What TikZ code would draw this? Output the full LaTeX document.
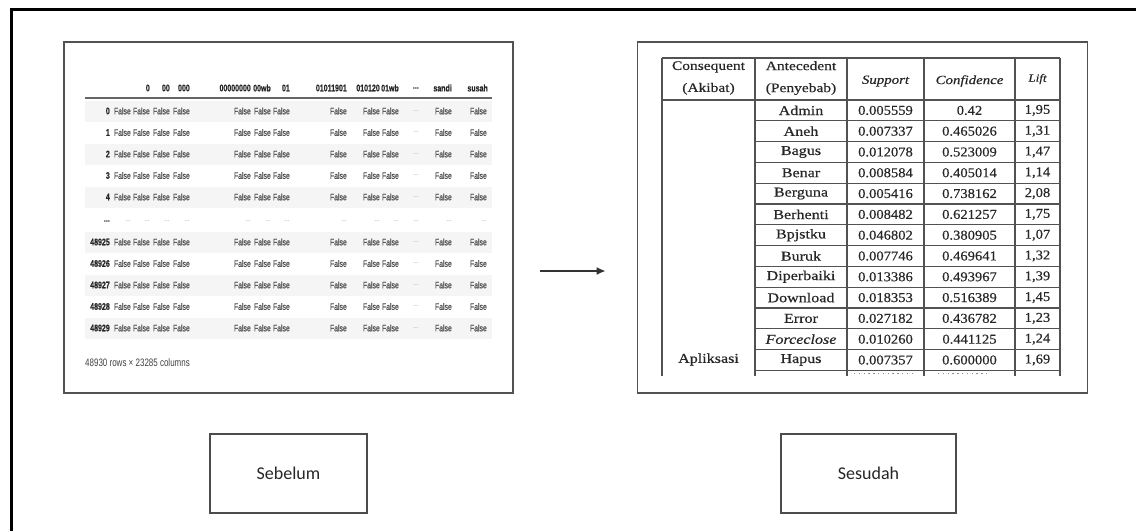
\documentclass[tikz,border=0pt]{standalone}
\usepackage{fontspec}
\setmainfont{Liberation Serif}
\newfontfamily\frameFont[FakeStretch=0.74]{Liberation Sans}
\newfontfamily\frameBold[FakeStretch=0.74,FakeBold=0.6]{Liberation Sans}
\newfontfamily\ruleFont[FakeStretch=1.19,FakeBold=0.5]{Liberation Serif}
\newfontfamily\ruleNum[FakeStretch=1.08,FakeBold=0.4]{Liberation Serif}
\newfontfamily\tagFont{Carlito}
\usetikzlibrary{arrows.meta}
\newcommand\elided{...}

\begin{document}
\begin{tikzpicture}[x=1pt,y=-1pt,
  panel/.style={draw=black!68, line width=1.8pt, inner sep=0},
  dfhead/.style={anchor=east, inner sep=0, font=\frameBold\bfseries\fontsize{9.5}{11}\selectfont, text=black!85},
  dfcell/.style={anchor=east, inner sep=0, font=\frameBold\fontsize{9.3}{11}\selectfont, text=black!70},
  dfskip/.style={anchor=east, inner sep=0, font=\frameFont\fontsize{9}{11}\selectfont, text=black!30},
  dfnote/.style={anchor=west, inner sep=0, font=\frameFont\fontsize{10.8}{12}\selectfont, text=black!75},
  rulehead/.style={inner sep=0, align=center, font=\ruleFont\fontsize{13}{22}\selectfont, text=black!85},
  ruleital/.style={inner sep=0, font=\ruleFont\itshape\fontsize{12.5}{14}\selectfont, text=black!85},
  ruleword/.style={inner sep=0, font=\ruleFont\fontsize{13.5}{15}\selectfont, text=black!85},
  rulecell/.style={inner sep=0, font=\ruleNum\fontsize{13.5}{15}\selectfont, text=black!85},
  grid/.style={draw=black!68, line width=1.3pt},
  tagbox/.style={draw=black!70, line width=1.4pt, minimum height=79pt, inner sep=0,
    font=\tagFont\fontsize{18}{21}\selectfont, text=black!85},
  link/.style={draw=black!80, line width=1.5pt, -{Latex[length=9pt,width=8pt]}}
]
\useasboundingbox (0,0) rectangle (1136,531);

% outer frame (open to the right and bottom)
\draw[line width=3pt] (11,531) -- (11,9) -- (1136,9);

% ---------- left panel: boolean data frame ----------
\node[panel, minimum width=449pt, minimum height=351pt] (before) at (288.5,217.5) {};

% column headers
\foreach \lab/\xx [count=\c] in {0/150, 00/170, 000/190, 00000000/251, 00wb/271, 01/290,
    01011901/347, 010120/380, 01wb/399, \elided/419, sandi/452, susah/488}
  \node[dfhead] (dh-\c) at (\xx,88) {\lab};
\draw[black!60, line width=1.3pt] (85,98) -- (492,98);

% body rows (even positions shaded)
\foreach \lab/\yy/\sh [count=\r] in {0/111/1, 1/132.5/0, 2/154/1, 3/175.5/0, 4/197/1,
    48925/242/1, 48926/263.5/0, 48927/285/1, 48928/306.5/0, 48929/328/1} {
  \ifnum\sh=1 \fill[black!4] (85,\yy-10.5) rectangle (492,\yy+10.5); \fi
  \node[dfhead] (ix-\r) at (110,\yy) {\lab};
  \foreach \xx [count=\c] in {131,150,170,190,251,271,290,347,380,399,452,487}
    \node[dfcell] (df-\r-\c) at (\xx,\yy) {False};
  \node[dfskip] (dfs-\r) at (419,\yy) {\elided};
}
% elided middle row
\node[dfhead] (ix-skip) at (110,221) {\elided};
\foreach \xx [count=\c] in {131,150,170,190,251,271,290,347,380,399,419,452,487}
  \node[dfskip] (dk-\c) at (\xx,221) {\elided};

\node[dfnote] (shape) at (85,363) {48930 rows × 23285 columns};

% ---------- right panel: association rules ----------
\node[panel, minimum width=450pt, minimum height=351pt] (after) at (862.5,217.5) {};

% grid
\draw[grid] (662,58) -- (1060,58);
\draw[grid] (662,100) -- (1060,100);
\foreach \i in {1,2,3,4,5,6,7,8,9,10,11,12,13}
  \draw[grid] (755,100+20.8*\i) -- (1060,100+20.8*\i);
\foreach \xx in {662,755,847,924,1015,1060}
  \draw[grid] (\xx,58) -- (\xx,376);

% header
\node[rulehead] (hcons) at (708.5,78) {Consequent\\(Akibat)};
\node[rulehead] (hante) at (801,78) {Antecedent\\(Penyebab)};
\node[ruleital] (hsup) at (885.5,81) {Support};
\node[ruleital] (hconf) at (969.5,81) {Confidence};
\node[ruleital, font=\ruleFont\itshape\fontsize{11}{13}\selectfont] (hlift) at (1037.5,79) {Lift};

% rows
\foreach \word/\sup/\conf/\lift [count=\r] in {
    Admin/0.005559/0.42/1{,}95,
    Aneh/0.007337/0.465026/1{,}31,
    Bagus/0.012078/0.523009/1{,}47,
    Benar/0.008584/0.405014/1{,}14,
    Berguna/0.005416/0.738162/2{,}08,
    Berhenti/0.008482/0.621257/1{,}75,
    Bpjstku/0.046802/0.380905/1{,}07,
    Buruk/0.007746/0.469641/1{,}32,
    Diperbaiki/0.013386/0.493967/1{,}39,
    Download/0.018353/0.516389/1{,}45,
    Error/0.027182/0.436782/1{,}23,
    {\itshape Forceclose}/0.010260/0.441125/1{,}24,
    Hapus/0.007357/0.600000/1{,}69} {
  \pgfmathsetmacro\yy{100+20.8*(\r-0.5)}
  \node[ruleword] (ra-\r) at (801,\yy) {\word};
  \node[rulecell] (rs-\r) at (885.5,\yy) {\sup};
  \node[rulecell] (rc-\r) at (969.5,\yy) {\conf};
  \node[rulecell] (rl-\r) at (1037.5,\yy) {\lift};
}
\node[ruleword] (rcons) at (708.5,359.6) {Apliksasi};

% tops of the next, cut-off row
\draw[black!45, line width=1.2pt, dash pattern=on 1.3pt off 3.5pt] (854,373.5) -- (916,373.5);
\draw[black!45, line width=1.2pt, dash pattern=on 1.3pt off 3.5pt] (938,373.5) -- (990,373.5);

% ---------- transition arrow ----------
\coordinate (from) at ([xshift=26pt]before.east |- 0,271);
\coordinate (to) at ([xshift=-31pt]after.west |- 0,271);
\draw[link] (from) -- (to);

% ---------- captions ----------
\node[tagbox, minimum width=157pt] (sebelum) at (288.5,473.5) {Sebelum};
\node[tagbox, minimum width=175pt] (sesudah) at (868.5,473.5) {Sesudah};
\end{tikzpicture}
\end{document}
